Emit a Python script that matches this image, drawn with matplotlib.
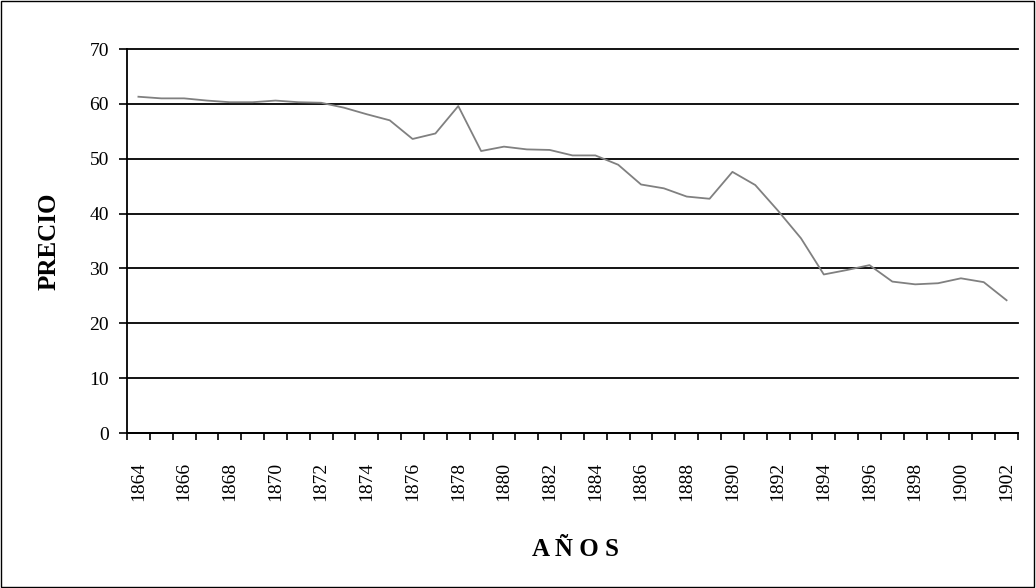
import matplotlib.pyplot as plt
import numpy as np

plt.rcParams['font.family'] = ['Liberation Serif', 'DejaVu Serif']

# Precio por año (1864-1902)
years = list(range(1864, 1903))
precio = [61.3, 61.0, 61.0, 60.6, 60.3, 60.3, 60.6, 60.3, 60.2, 59.3,
          58.1, 57.0, 53.6, 54.6, 59.6, 51.4, 52.2, 51.7, 51.6, 50.6,
          50.6, 48.9, 45.3, 44.6, 43.1, 42.7, 47.6, 45.2, 40.5, 35.5,
          28.9, 29.7, 30.6, 27.6, 27.1, 27.3, 28.2, 27.5, 24.2]
yticks = [0, 10, 20, 30, 40, 50, 60, 70]

fig = plt.figure(figsize=(10.36, 5.88), dpi=100)
fig.patches.append(plt.Rectangle((0.0005, 0.001), 0.998, 0.997, transform=fig.transFigure,
                                 fill=False, edgecolor='black', linewidth=1))
ax = fig.add_axes([127 / 1036, 1 - 433 / 588, 891 / 1036, 384 / 588])

x = np.arange(len(years))
ax.plot(x, precio, color='#808080', linewidth=1.3)

ax.set_xlim(-0.5, len(years) - 0.5)
ax.set_ylim(0, 70)
ax.set_yticks(yticks)
ax.yaxis.grid(True, color='black', linewidth=1.3)
ax.set_axisbelow(True)
for gl in ax.get_ygridlines():
    gl.set_clip_on(False)

# ticks between categories, labels every second year
ax.set_xticks(np.arange(-0.5, len(years), 1.0))
ax.set_xticklabels([])
ax.set_xticks(x[::2], minor=True)
ax.set_xticklabels([str(y) for y in years[::2]], minor=True, rotation=90, fontsize=14)
ax.tick_params(axis='x', which='minor', length=0, pad=21)
ax.tick_params(axis='x', which='major', length=5, width=1.2, direction='out')
ax.tick_params(axis='y', length=6, width=1.2, direction='out', labelsize=14, pad=7)

for s in ['top', 'right']:
    ax.spines[s].set_visible(False)
ax.spines['left'].set_linewidth(1.3)
ax.spines['bottom'].set_linewidth(1.3)

fig.text(49 / 1036, 1 - 241 / 588, 'PRECIO', fontsize=18, fontweight='bold',
         rotation=90, ha='center', va='center')
fig.text(576 / 1036, 1 - 550 / 588, 'A Ñ O S', fontsize=18, fontweight='bold',
         ha='center', va='center')

fig.savefig('out.png', dpi=100)
